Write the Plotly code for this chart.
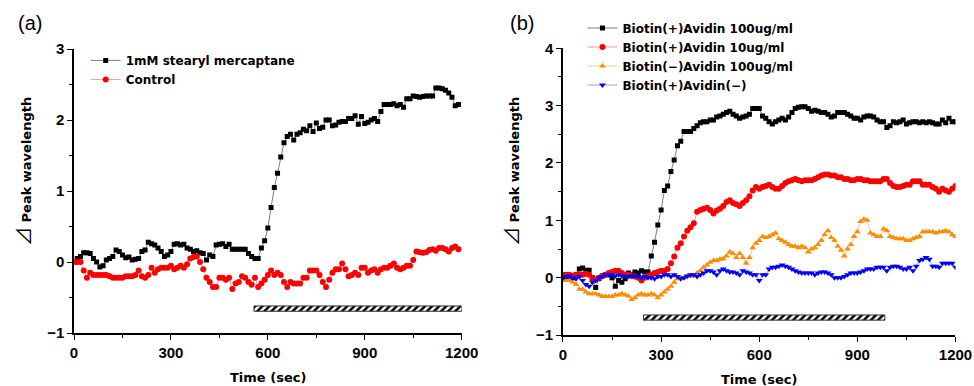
import plotly.graph_objects as go

# ---------------- data ----------------
time_a = list(range(0, 1200, 10))  # 0..1190
stearyl = [0.0, 0.05, 0.08, 0.13, 0.13, 0.12, 0.05, 0.0, -0.07, -0.05,
           0.03, 0.05, 0.08, 0.17, 0.15, 0.1, 0.06, 0.07, 0.03, 0.04,
           0.05, 0.15, 0.17, 0.28, 0.26, 0.24, 0.2, 0.15, 0.08, 0.1,
           0.15, 0.25, 0.26, 0.24, 0.25, 0.2, 0.18, 0.15, 0.16, 0.13,
           0.12, 0.03, 0.1, 0.08, 0.24, 0.25, 0.26, 0.22, 0.25, 0.18,
           0.18, 0.18, 0.18, 0.18, 0.12, 0.08, 0.05, 0.05, 0.2, 0.3,
           0.48, 0.77, 1.05, 1.25, 1.48, 1.68, 1.77, 1.8, 1.72, 1.8,
           1.82, 1.87, 1.85, 1.92, 1.84, 1.96, 1.88, 1.9, 2.0, 2.0,
           1.92, 1.93, 1.97, 1.98, 1.98, 2.02, 2.02, 2.06, 1.94, 2.05,
           1.95, 1.97, 2.0, 2.02, 1.98, 2.12, 2.22, 2.22, 2.22, 2.23,
           2.2, 2.22, 2.18, 2.3, 2.3, 2.34, 2.33, 2.32, 2.33, 2.34,
           2.34, 2.34, 2.45, 2.45, 2.44, 2.42, 2.38, 2.32, 2.2, 2.22]
control = [0.0, 0.0, 0.0, -0.12, -0.22, -0.15, -0.18, -0.18, -0.18, -0.18,
           -0.18, -0.2, -0.22, -0.22, -0.22, -0.22, -0.2, -0.2, -0.2, -0.18,
           -0.12, -0.2, -0.22, -0.18, -0.08, -0.15, -0.1, -0.08, -0.08, -0.08,
           -0.05, -0.1, -0.08, -0.05, -0.08, -0.03, 0.05, 0.07, 0.08, 0.0,
           -0.1, -0.22, -0.28, -0.35, -0.35, -0.22, -0.22, -0.25, -0.22, -0.38,
           -0.3, -0.28, -0.2, -0.22, -0.28, -0.32, -0.22, -0.35, -0.3, -0.25,
           -0.18, -0.12, -0.18, -0.15, -0.18, -0.28, -0.35, -0.28, -0.3, -0.3,
           -0.3, -0.22, -0.22, -0.12, -0.12, -0.12, -0.18, -0.28, -0.35, -0.25,
           -0.15, -0.1, -0.1, -0.02, -0.1, -0.2, -0.18, -0.15, -0.18, -0.08,
           -0.08, -0.15, -0.12, -0.1, -0.15, -0.1, -0.08, -0.08, -0.05, -0.02,
           -0.08, -0.1, -0.08, -0.05, -0.05, 0.03, 0.15, 0.14, 0.13, 0.14,
           0.17, 0.18, 0.16, 0.2, 0.2, 0.18, 0.15, 0.2, 0.22, 0.18]

time_b = list(range(0, 1210, 10))  # 0..1200
avidin100 = [0.0, 0.02, 0.03, 0.0, 0.05, 0.15, 0.17, 0.13, 0.13, 0.0,
             -0.17, -0.02, 0.03, 0.05, 0.05, 0.0, -0.15, -0.05, -0.08, -0.02,
             0.08, 0.05, 0.1, 0.08, 0.12, 0.1, 0.1, 0.38, 0.62, 0.92,
             1.18, 1.52, 1.6, 1.85, 2.05, 2.3, 2.38, 2.55, 2.55, 2.55,
             2.6, 2.65, 2.7, 2.72, 2.72, 2.75, 2.75, 2.8, 2.82, 2.85,
             2.88, 2.9, 2.85, 2.82, 2.78, 2.8, 2.82, 2.85, 2.95, 2.95,
             2.95, 2.82, 2.78, 2.72, 2.68, 2.72, 2.75, 2.78, 2.75, 2.8,
             2.88, 2.95, 2.97, 2.98, 2.98, 2.95, 2.9, 2.92, 2.9, 2.88,
             2.88, 2.85, 2.8, 2.82, 2.88, 2.88, 2.88, 2.85, 2.82, 2.78,
             2.78, 2.75, 2.8, 2.82, 2.82, 2.8, 2.75, 2.72, 2.72, 2.62,
             2.65, 2.72, 2.7, 2.72, 2.75, 2.68, 2.7, 2.72, 2.72, 2.7,
             2.72, 2.7, 2.72, 2.7, 2.68, 2.68, 2.75, 2.7, 2.78, 2.72, 2.72]
avidin10 = [0.05, 0.05, 0.05, 0.03, 0.05, 0.05, 0.05, 0.07, 0.05, -0.02,
            -0.03, 0.0, 0.03, 0.05, 0.08, 0.1, 0.12, 0.12, 0.08, 0.05,
            0.05, 0.03, 0.02, 0.0, -0.05, 0.0, 0.03, 0.05, 0.08, 0.1,
            0.12, 0.12, 0.15, 0.25, 0.37, 0.52, 0.6, 0.72, 0.82, 0.88,
            0.95, 1.15, 1.18, 1.2, 1.22, 1.18, 1.12, 1.17, 1.2, 1.25,
            1.32, 1.35, 1.3, 1.28, 1.25, 1.3, 1.35, 1.42, 1.52, 1.58,
            1.55, 1.58, 1.6, 1.62, 1.58, 1.55, 1.55, 1.6, 1.65, 1.68,
            1.7, 1.72, 1.7, 1.68, 1.7, 1.7, 1.7, 1.72, 1.75, 1.78,
            1.8, 1.8, 1.78, 1.78, 1.75, 1.75, 1.72, 1.72, 1.7, 1.7,
            1.72, 1.72, 1.7, 1.7, 1.68, 1.68, 1.68, 1.68, 1.72, 1.72,
            1.65, 1.6, 1.58, 1.58, 1.6, 1.62, 1.62, 1.68, 1.68, 1.68,
            1.62, 1.62, 1.62, 1.58, 1.55, 1.5, 1.55, 1.52, 1.5, 1.55, 1.6]
noBiotin = [-0.05, -0.05, -0.05, -0.08, -0.12, -0.2, -0.2, -0.25, -0.28, -0.28,
            -0.28, -0.3, -0.33, -0.33, -0.33, -0.33, -0.3, -0.3, -0.28, -0.3,
            -0.32, -0.38, -0.35, -0.3, -0.28, -0.3, -0.3, -0.28, -0.3, -0.35,
            -0.3, -0.25, -0.2, -0.15, -0.08, -0.02, 0.0, 0.0, 0.02, 0.02,
            0.03, 0.08, 0.12, 0.18, 0.22, 0.27, 0.3, 0.3, 0.32, 0.33,
            0.38, 0.45, 0.42, 0.35, 0.42, 0.35, 0.25, 0.35, 0.52, 0.6,
            0.65, 0.72, 0.7, 0.72, 0.75, 0.78, 0.68, 0.65, 0.62, 0.58,
            0.55, 0.55, 0.52, 0.55, 0.52, 0.45, 0.5, 0.52, 0.58, 0.65,
            0.75, 0.82, 0.7, 0.65, 0.55, 0.48, 0.38, 0.5, 0.58, 0.72,
            0.8, 0.98, 1.02, 1.0, 0.78, 0.75, 0.72, 0.72, 0.85, 0.82,
            0.72, 0.7, 0.68, 0.68, 0.68, 0.65, 0.65, 0.68, 0.7, 0.72,
            0.8, 0.8, 0.8, 0.8, 0.78, 0.8, 0.8, 0.82, 0.8, 0.75, 0.72]
noAvidin = [0.0, 0.02, 0.03, 0.0, -0.02, 0.02, -0.05, -0.12, -0.15, -0.08,
            -0.05, 0.0, 0.02, 0.05, 0.05, 0.05, 0.03, 0.05, 0.03, 0.02,
            0.02, 0.03, 0.03, 0.02, 0.0, 0.02, 0.0, 0.0, -0.02, 0.02,
            0.02, 0.05, 0.05, 0.02, 0.05, 0.02, -0.02, 0.0, 0.03, 0.05,
            0.05, 0.02, 0.05, 0.08, 0.12, 0.12, 0.1, 0.05, 0.12, 0.15,
            0.12, 0.1, 0.1, 0.08, 0.05, 0.12, 0.1, 0.08, 0.05, 0.05,
            -0.05, 0.05, 0.05, 0.15, 0.18, 0.18, 0.2, 0.22, 0.2, 0.18,
            0.15, 0.12, 0.1, 0.08, 0.08, 0.08, 0.08, 0.05, 0.08, 0.1,
            0.1, 0.08, 0.05, 0.0, 0.0, 0.0, 0.02, 0.05, 0.08, 0.08,
            0.08, 0.1, 0.12, 0.15, 0.15, 0.15, 0.18, 0.18, 0.18, 0.12,
            0.18, 0.2, 0.2, 0.18, 0.15, 0.15, 0.18, 0.12, 0.2, 0.3,
            0.32, 0.35, 0.32, 0.2, 0.2, 0.18, 0.25, 0.25, 0.25, 0.25, 0.18]

# exposure periods (hatched bars): start, end (sec), level
exposure_a = [557, 1200]
exposure_b = [246, 984]
bar_level_a = -0.655
bar_level_b = -0.695

x_ticks = [0, 300, 600, 900, 1200]
y_ticks_a = [-1, 0, 1, 2, 3]
y_ticks_b = [-1, 0, 1, 2, 3, 4]

names_a = ["1mM stearyl mercaptane", "Control"]
names_b = ["Biotin(+)Avidin 100ug/ml", "Biotin(+)Avidin 10ug/ml",
           "Biotin(−)Avidin 100ug/ml", "Biotin(+)Avidin(−)"]

TICKFONT = "Arial"
TEXTFONT = "DejaVu Sans"

fig = go.Figure()

def series(x, y, name, mcolor, lcolor, symbol, size, xa, ya, legend):
    fig.add_trace(go.Scatter(
        x=x, y=y, name=name, mode="lines+markers",
        line=dict(color=lcolor, width=0.9),
        marker=dict(color=mcolor, symbol=symbol, size=size, line=dict(width=0)),
        xaxis=xa, yaxis=ya, legend=legend))

series(time_a, stearyl, names_a[0], "black", "#707070", "square", 5, "x", "y", "legend")
series(time_a, control, names_a[1], "#ff0000", "#ff9090", "circle", 6, "x", "y", "legend")
series(time_b, avidin100, names_b[0], "black", "#707070", "square", 5, "x2", "y2", "legend2")
series(time_b, avidin10, names_b[1], "#ff0000", "#ff9090", "circle", 6, "x2", "y2", "legend2")
series(time_b, noBiotin, names_b[2], "#ff8c00", "#ffc080", "triangle-up", 6, "x2", "y2", "legend2")
series(time_b, noAvidin, names_b[3], "#0000ff", "#9090ff", "triangle-down", 6, "x2", "y2", "legend2")

hatch = dict(shape="/", fgcolor="black", bgcolor="white", size=5, solidity=0.5)
fig.add_trace(go.Bar(
    x=[exposure_a[1] - exposure_a[0]], base=[exposure_a[0]], y=[bar_level_a],
    orientation="h", width=[0.075], showlegend=False,
    marker=dict(color="white", pattern=hatch, line=dict(color="#333333", width=1)),
    xaxis="x", yaxis="y"))
fig.add_trace(go.Bar(
    x=[exposure_b[1] - exposure_b[0]], base=[exposure_b[0]], y=[bar_level_b],
    orientation="h", width=[0.09], showlegend=False,
    marker=dict(color="white", pattern=hatch, line=dict(color="#333333", width=1)),
    xaxis="x2", yaxis="y2"))

tickfont = dict(family=TICKFONT, size=15, color="black", weight="bold")
common_x = dict(range=[0, 1200], tickvals=x_ticks, showline=True, linewidth=1.5,
                linecolor="black", ticks="outside", ticklen=5, tickwidth=1.2,
                tickcolor="black", tickfont=tickfont, showgrid=False, zeroline=False,
                minor=dict(dtick=150, tick0=0, ticks="outside", ticklen=3,
                           tickwidth=1, tickcolor="black", showgrid=False),
                automargin=False, fixedrange=True)
common_y = dict(showline=True, linewidth=1.5, linecolor="black", ticks="outside",
                ticklen=5, tickwidth=1.2, tickcolor="black", tickfont=tickfont,
                showgrid=False, zeroline=False,
                minor=dict(dtick=0.5, tick0=0, ticks="outside", ticklen=3,
                           tickwidth=1, tickcolor="black", showgrid=False),
                automargin=False, fixedrange=True)

legend_font = dict(family=TEXTFONT, size=12, color="black", weight="bold")
fig.update_layout(
    width=974, height=386, margin=dict(l=0, r=0, t=0, b=0),
    template="none", paper_bgcolor="white", plot_bgcolor="white",
    showlegend=True, barmode="overlay",
    xaxis=dict(domain=[0.076, 0.474], anchor="y", **common_x),
    yaxis=dict(domain=[0.137, 0.873], anchor="x", range=[-1, 3],
               tickvals=y_ticks_a, **common_y),
    xaxis2=dict(domain=[0.578, 0.981], anchor="y2", **common_x),
    yaxis2=dict(domain=[0.132, 0.875], anchor="x2", range=[-1, 4],
                tickvals=y_ticks_b, **common_y),
    legend=dict(x=0.088, y=0.881, xanchor="left", yanchor="top",
                bgcolor="rgba(0,0,0,0)", borderwidth=0, font=legend_font,
                tracegroupgap=0, itemwidth=30),
    legend2=dict(x=0.598, y=0.965, xanchor="left", yanchor="top",
                 bgcolor="rgba(0,0,0,0)", borderwidth=0, font=legend_font,
                 tracegroupgap=0, itemwidth=30),
    font=dict(family=TEXTFONT, color="black"),
)

title_font = dict(family=TEXTFONT, size=13, color="black", weight="bold")
ytitle_font = dict(family=TEXTFONT, size=13, color="black", weight="bold")
ytitle = ('<span style="font-family:\'Noto Sans CJK JP\';font-size:19px;font-weight:normal">⊿</span>'
          ' Peak wavelength')
annotations = [
    dict(text="(a)", x=30 / 974, y=1 - 23 / 386, font=dict(family="Arial", size=20)),
    dict(text="(b)", x=522 / 974, y=1 - 23 / 386, font=dict(family="Arial", size=20)),
    dict(text="Time (sec)", x=268 / 974, y=1 - 377 / 386, font=title_font),
    dict(text="Time (sec)", x=759 / 974, y=1 - 379 / 386, font=title_font),
    dict(text=ytitle, x=22 / 974, y=1 - 172 / 386, textangle=-90, font=ytitle_font),
    dict(text=ytitle, x=510 / 974, y=1 - 172 / 386, textangle=-90, font=ytitle_font),
]
for a in annotations:
    a.update(xref="paper", yref="paper", showarrow=False, xanchor="center", yanchor="middle")
fig.update_layout(annotations=annotations)

fig.write_html("out.html", config={"displayModeBar": False},
               post_script="document.body.style.margin='0px';")
